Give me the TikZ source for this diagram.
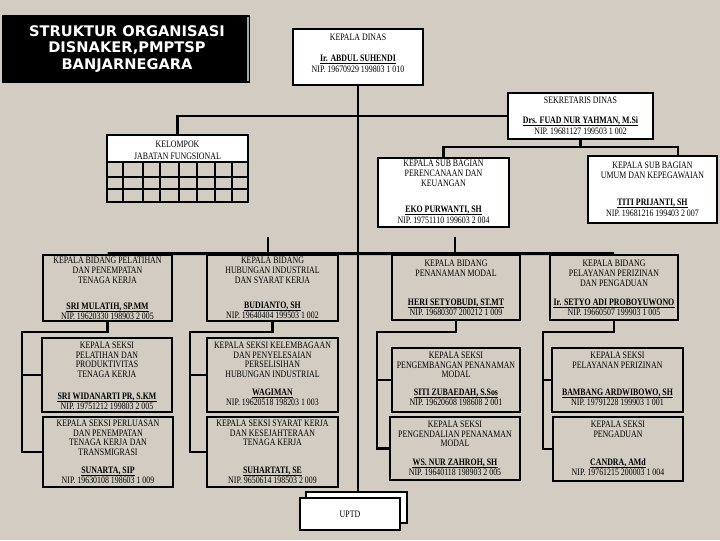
\documentclass[tikz,border=0pt]{standalone}
\usepackage{fontspec}
\setmainfont{Liberation Serif}
\newfontfamily\chartfont[FakeStretch=0.8]{Liberation Serif}
\newfontfamily\titlefont{DejaVu Sans}
\usetikzlibrary{fit}
\definecolor{damask}{HTML}{D2CCC2}

\tikzset{
  box/.style={draw, line width=2pt, inner sep=0pt},
  wbox/.style={box, fill=white},
  conn/.style={line width=2pt},
  txt/.style={font=\chartfont\fontsize{7}{8}\selectfont, inner sep=0pt, text height=5pt, text depth=0pt},
  nm/.style={font=\chartfont\fontsize{7}{8}\bfseries\selectfont, inner sep=0pt, text height=5pt, text depth=0pt,
    append after command={([yshift=-0.9pt]\tikzlastnode.south west) edge[line width=0.7pt] ([yshift=-0.9pt]\tikzlastnode.south east)}},
}

\begin{document}
\begin{tikzpicture}[x=0.025cm, y=-0.025cm]
	\useasboundingbox (0,0) rectangle (720,540);
	\fill[damask] (0,0) rectangle (720,540);

	% title
	\node[fill=black, inner sep=0pt, fit={(2,15) (250,83)}] (title) {};
	\draw[gray!70, line width=0.8pt] (248,17) -- (248,81);
	\node[font=\titlefont\bfseries\fontsize{10.4}{11.7}\selectfont, text=white, align=center] (titletxt) at (127,49) {STRUKTUR ORGANISASI\\DISNAKER,PMPTSP\\BANJARNEGARA};

	% boxes
	\node[wbox, fit={(293,29) (423,85)}] (kadis) {};
	\node[wbox, fit={(508,93) (653,139)}] (sekdis) {};
	\fill[white] (107,135) rectangle (248,162);
	\node[draw, line width=1.2pt, inner sep=0pt, fit={(107,135) (248,202)}] (kjf) {};
	\node[wbox, fit={(378,158) (509,227)}] (ren) {};
	\node[wbox, fit={(588,156) (717,223)}] (umum) {};
	\node[box, fit={(43,255) (172,321)}] (pel) {};
	\node[box, fit={(207,255) (338,321)}] (hub) {};
	\node[box, fit={(392,255) (520,320)}] (pen) {};
	\node[box, fit={(550,255) (678,320)}] (lyn) {};
	\node[box, fit={(42,338) (172,412)}] (ks1) {};
	\node[box, fit={(207,338) (338,412)}] (ks2) {};
	\node[box, fit={(392,348) (520,412)}] (ks3) {};
	\node[box, fit={(552,348) (683,412)}] (ks4) {};
	\node[box, fit={(43,417) (173,487)}] (ks5) {};
	\node[box, fit={(207,417) (338,487)}] (ks6) {};
	\node[box, fit={(390,417) (520,480)}] (ks7) {};
	\node[box, fit={(553,417) (683,481)}] (ks8) {};
	\node[wbox, fit={(306,492) (407,523)}] (uptdb) {};
	\node[wbox, fit={(300,498) (400,530)}] (uptd) {};

	% grid of kelompok jabatan fungsional
	\foreach \gx in {123,143,160,179,197,215,232}
		\draw[line width=1pt] (\gx,162) -- (\gx,202);
	\foreach \gy in {162,177,189}
		\draw[line width=1pt] (107,\gy) -- (248,\gy);

	% connectors
	\draw[conn] (kadis.south) -- (kadis.south |- uptdb.north);
	\draw[conn] (kjf.north) |- (sekdis.west);
	\coordinate (sekj) at (580.5,147);
	\coordinate (umumj) at (678,156);
	\draw[conn] (sekdis.south) -- (sekj);
	\draw[conn] (ren.north) |- (sekj) -| (umumj);
	\draw[conn] (pel.north) -- (lyn.north);
	\coordinate (stubA) at (268,237);
	\coordinate (stubB) at (455,237);
	\draw[conn] (stubA) -- (stubA |- pel.north);
	\draw[conn] (stubB) -- (stubB |- pel.north);
	\coordinate (pelj) at (22,332);
	\coordinate (hubj) at (190,332);
	\coordinate (penj) at (377,332);
	\coordinate (lynj) at (543,332);
	\draw[conn] (pel.south) |- (pelj) |- (ks5.west);
	\draw[conn] (pelj) |- (ks1.west);
	\draw[conn] (hub.south) |- (hubj) |- (ks6.west);
	\draw[conn] (hubj) |- (ks2.west);
	\draw[conn] (pen.south) |- (penj) |- (ks7.west);
	\draw[conn] (penj) |- (ks3.west);
	\draw[conn] (lyn.south) |- (lynj) |- (ks8.west);
	\draw[conn] (lynj) |- (ks4.west);

	% texts
	\node[txt] (kadis-t) at (358,37) {KEPALA DINAS};
	\node[nm] (kadis-n) at (358,58) {Ir. ABDUL SUHENDI};
	\node[txt] (kadis-p) at (358,69) {NIP. 19670929 199803 1 010};

	\node[txt] (sekdis-t) at (580.5,100) {SEKRETARIS DINAS};
	\node[nm] (sekdis-n) at (580.5,120) {Drs. FUAD NUR YAHMAN, M.Si};
	\node[txt] (sekdis-p) at (580.5,131) {NIP. 19681127 199503 1 002};

	\node[txt] (kjf-1) at (177.5,144) {KELOMPOK};
	\node[txt] (kjf-2) at (177.5,156) {JABATAN FUNGSIONAL};

	\foreach \t [count=\i] in {KEPALA SUB BAGIAN, PERENCANAAN DAN, KEUANGAN}
		\node[txt] (ren-\i) at (443.5,153+10*\i) {\t};
	\node[nm] (ren-n) at (443.5,209) {EKO PURWANTI, SH};
	\node[txt] (ren-p) at (443.5,220) {NIP. 19751110 199603 2 004};

	\foreach \t [count=\i] in {KEPALA SUB BAGIAN, UMUM DAN KEPEGAWAIAN}
		\node[txt] (umum-\i) at (652.5,155+10*\i) {\t};
	\node[nm] (umum-n) at (652.5,202) {TITI PRIJANTI, SH};
	\node[txt] (umum-p) at (652.5,213) {NIP. 19681216 199403 2 007};

	\foreach \t [count=\i] in {KEPALA BIDANG PELATIHAN, DAN PENEMPATAN, TENAGA KERJA}
		\node[txt] (pel-\i) at (107.5,250+10*\i) {\t};
	\node[nm] (pel-n) at (107.5,306) {SRI MULATIH, SP.MM};
	\node[txt] (pel-p) at (107.5,316) {NIP. 19620330 198903 2 005};

	\foreach \t [count=\i] in {KEPALA BIDANG, HUBUNGAN INDUSTRIAL, DAN SYARAT KERJA}
		\node[txt] (hub-\i) at (272.5,250+10*\i) {\t};
	\node[nm] (hub-n) at (272.5,305) {BUDIANTO, SH};
	\node[txt] (hub-p) at (272.5,315) {NIP. 19640404 199503 1 002};

	\foreach \t [count=\i] in {KEPALA BIDANG, PENANAMAN MODAL}
		\node[txt] (pen-\i) at (456,253+10*\i) {\t};
	\node[nm] (pen-n) at (456,302) {HERI SETYOBUDI, ST.MT};
	\node[txt] (pen-p) at (456,312) {NIP. 19680307 200212 1 009};

	\foreach \t [count=\i] in {KEPALA BIDANG, PELAYANAN PERIZINAN, DAN PENGADUAN}
		\node[txt] (lyn-\i) at (614,253+10*\i) {\t};
	\node[nm] (lyn-n) at (614,302) {Ir. SETYO ADI PROBOYUWONO};
	\node[txt] (lyn-p) at (614,312) {NIP. 19660507 199903 1 005};

	\foreach \t [count=\i] in {KEPALA SEKSI, PELATIHAN DAN, PRODUKTIVITAS, TENAGA KERJA}
		\node[txt] (ks1-\i) at (107,335.5+9.5*\i) {\t};
	\node[nm] (ks1-n) at (107,396) {SRI WIDANARTI PR, S.KM};
	\node[txt] (ks1-p) at (107,406) {NIP. 19751212 199803 2 005};

	\foreach \t [count=\i] in {KEPALA SEKSI KELEMBAGAAN, DAN PENYELESAIAN, PERSELISIHAN, HUBUNGAN INDUSTRIAL}
		\node[txt] (ks2-\i) at (272.5,335.5+9.5*\i) {\t};
	\node[nm] (ks2-n) at (272.5,392) {WAGIMAN};
	\node[txt] (ks2-p) at (272.5,402) {NIP. 19620518 198203 1 003};

	\foreach \t [count=\i] in {KEPALA SEKSI, PENGEMBANGAN PENANAMAN, MODAL}
		\node[txt] (ks3-\i) at (456,345.5+9.5*\i) {\t};
	\node[nm] (ks3-n) at (456,392) {SITI ZUBAEDAH, S.Sos};
	\node[txt] (ks3-p) at (456,402) {NIP. 19620608 198608 2 001};

	\foreach \t [count=\i] in {KEPALA SEKSI, PELAYANAN PERIZINAN}
		\node[txt] (ks4-\i) at (617.5,345.5+9.5*\i) {\t};
	\node[nm] (ks4-n) at (617.5,392) {BAMBANG ARDWIBOWO, SH};
	\node[txt] (ks4-p) at (617.5,402) {NIP. 19791228 199903 1 001};

	\foreach \t [count=\i] in {KEPALA SEKSI PERLUASAN, DAN PENEMPATAN, TENAGA KERJA DAN, TRANSMIGRASI}
		\node[txt] (ks5-\i) at (108,413.5+9.5*\i) {\t};
	\node[nm] (ks5-n) at (108,470) {SUNARTA, SIP};
	\node[txt] (ks5-p) at (108,480) {NIP. 19630108 198603 1 009};

	\foreach \t [count=\i] in {KEPALA SEKSI SYARAT KERJA, DAN KESEJAHTERAAN, TENAGA KERJA}
		\node[txt] (ks6-\i) at (272.5,413.5+9.5*\i) {\t};
	\node[nm] (ks6-n) at (272.5,470) {SUHARTATI, SE};
	\node[txt] (ks6-p) at (272.5,480) {NIP. 9650614 198503 2 009};

	\foreach \t [count=\i] in {KEPALA SEKSI, PENGENDALIAN PENANAMAN, MODAL}
		\node[txt] (ks7-\i) at (455,414.5+9.5*\i) {\t};
	\node[nm] (ks7-n) at (455,462) {WS. NUR ZAHROH, SH};
	\node[txt] (ks7-p) at (455,472) {NIP. 19640118 198903 2 005};

	\foreach \t [count=\i] in {KEPALA SEKSI, PENGADUAN}
		\node[txt] (ks8-\i) at (618,414.5+9.5*\i) {\t};
	\node[nm] (ks8-n) at (618,462) {CANDRA, AMd};
	\node[txt] (ks8-p) at (618,472) {NIP. 19761215 200003 1 004};

	\node[txt] (uptd-t) at (350,514) {UPTD};
\end{tikzpicture}
\end{document}
